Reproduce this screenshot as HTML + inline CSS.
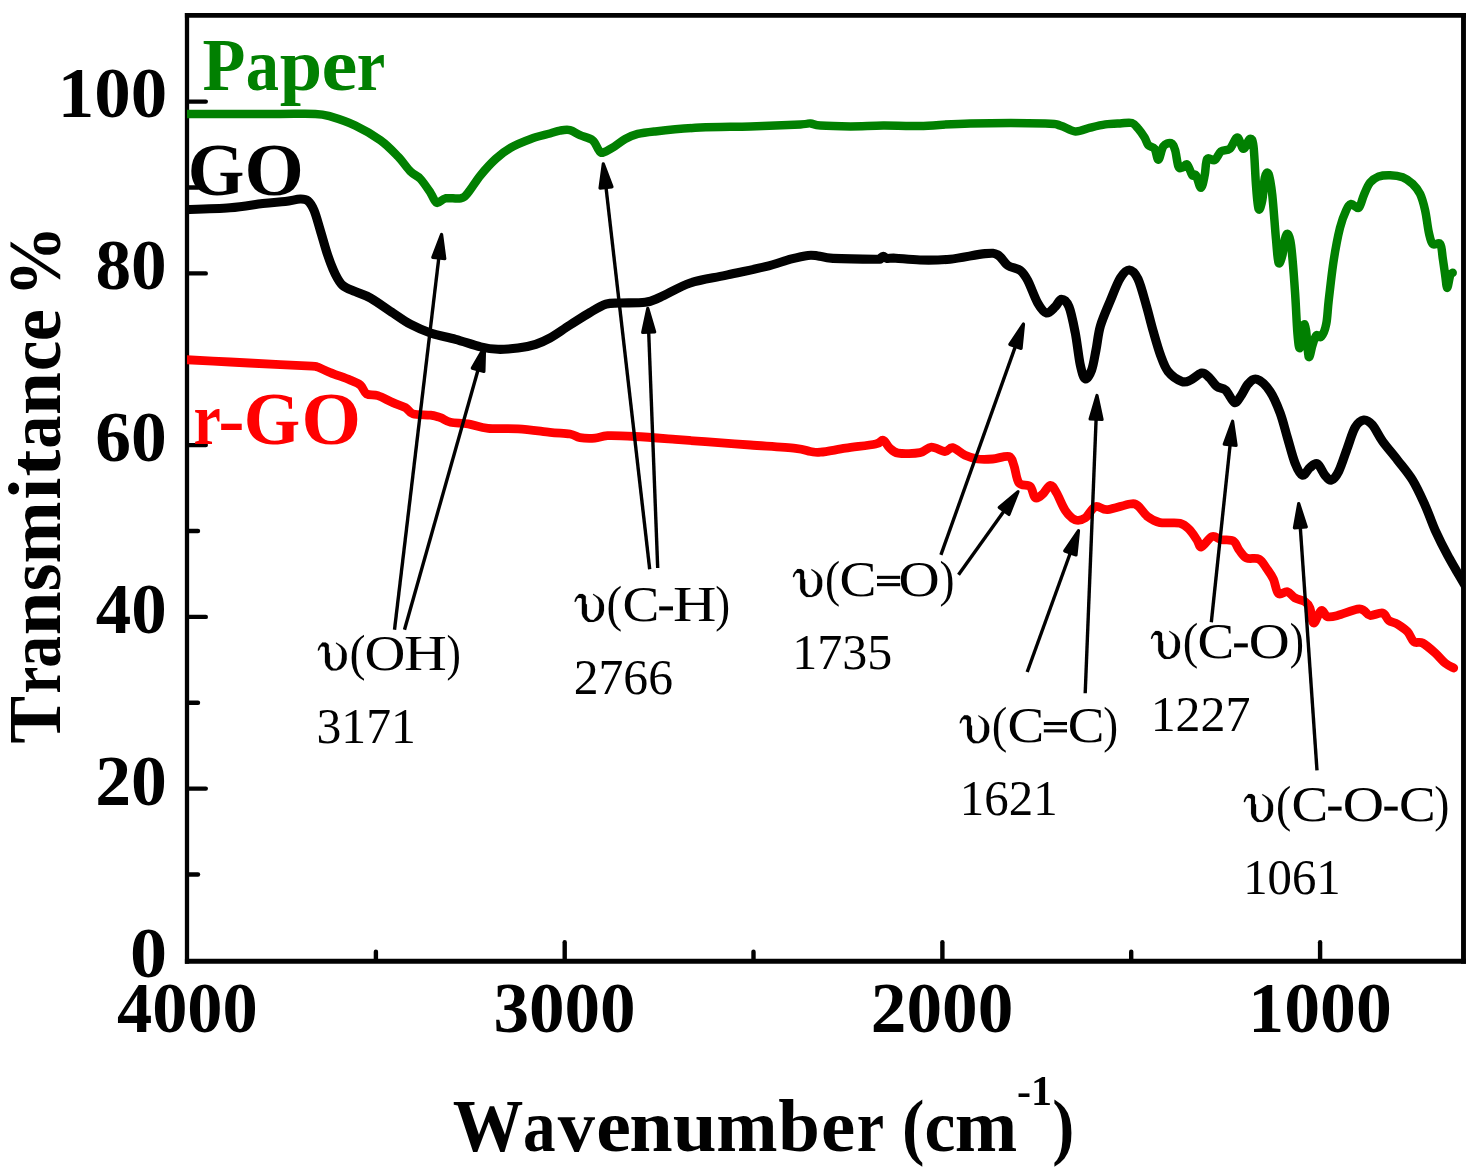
<!DOCTYPE html>
<html><head><meta charset="utf-8"><title>FTIR</title>
<style>
html,body{margin:0;padding:0;background:#fff;}
body{width:1477px;height:1168px;overflow:hidden;}
svg{display:block;}
text{font-family:"Liberation Serif",serif;}
.b{font-weight:bold;}
</style></head><body>
<svg width="1477" height="1168" viewBox="0 0 1477 1168">
<rect width="1477" height="1168" fill="#fff"/>
<g opacity="0.9999">
<g stroke="#000" stroke-linecap="butt">
<line x1="187.0" y1="12.95" x2="187.0" y2="963.6500000000001" stroke-width="4.3"/>
<line x1="1463.5" y1="12.95" x2="1463.5" y2="963.6500000000001" stroke-width="4.9"/>
<line x1="184.9" y1="15.4" x2="1465.9" y2="15.4" stroke-width="4.9"/>
<line x1="184.9" y1="961.2" x2="1465.9" y2="961.2" stroke-width="4.9"/>
</g>
<g stroke="#000" stroke-width="4.4" stroke-linecap="round">
<line x1="188.0" y1="874.5" x2="198.0" y2="874.5"/>
<line x1="188.0" y1="788.6" x2="205.8" y2="788.6"/>
<line x1="188.0" y1="702.8" x2="198.0" y2="702.8"/>
<line x1="188.0" y1="616.9" x2="205.8" y2="616.9"/>
<line x1="188.0" y1="531.0" x2="198.0" y2="531.0"/>
<line x1="188.0" y1="445.1" x2="205.8" y2="445.1"/>
<line x1="188.0" y1="359.3" x2="198.0" y2="359.3"/>
<line x1="188.0" y1="273.4" x2="205.8" y2="273.4"/>
<line x1="188.0" y1="187.5" x2="198.0" y2="187.5"/>
<line x1="188.0" y1="101.6" x2="205.8" y2="101.6"/>
<line x1="375.9" y1="960.2" x2="375.9" y2="951.7"/>
<line x1="564.7" y1="960.2" x2="564.7" y2="942.2"/>
<line x1="753.5" y1="960.2" x2="753.5" y2="951.7"/>
<line x1="942.4" y1="960.2" x2="942.4" y2="942.2"/>
<line x1="1131.2" y1="960.2" x2="1131.2" y2="951.7"/>
<line x1="1320.1" y1="960.2" x2="1320.1" y2="942.2"/>
</g>
<defs><clipPath id="cp"><rect x="187.0" y="15.4" width="1276.5" height="945.8000000000001"/></clipPath></defs>
<g clip-path="url(#cp)">
<path d="M182.0,359.5C190.0,359.9 213.7,361.1 230.1,362.0C246.5,362.9 266.6,363.9 280.2,364.6C293.8,365.3 305.7,365.8 312.0,366.2C318.3,366.6 314.9,366.1 318.0,367.2C321.1,368.3 324.9,370.5 330.3,372.6C335.7,374.8 345.3,378.0 350.3,380.1C355.3,382.2 357.7,382.8 360.4,385.1C363.1,387.4 363.7,392.1 366.6,393.9C369.5,395.6 373.5,394.2 377.9,395.6C382.3,397.1 388.3,400.6 392.9,402.6C397.5,404.6 402.1,405.8 405.5,407.7C408.9,409.6 408.8,412.6 413.0,413.9C417.2,415.1 425.9,414.6 430.5,415.2C435.1,415.8 437.2,416.5 440.5,417.7C443.8,418.9 445.9,421.2 450.5,422.2C455.1,423.2 461.8,422.9 468.1,423.9C474.4,424.9 479.8,427.6 488.1,428.4C496.5,429.2 507.9,428.2 518.2,428.9C528.5,429.5 541.4,431.4 550.0,432.3C558.6,433.2 565.0,433.1 570.0,434.0C575.0,434.9 575.8,437.0 580.0,437.7C584.2,438.4 590.4,438.5 595.0,438.2C599.6,437.9 600.9,436.0 607.6,435.7C614.3,435.4 623.9,435.9 635.2,436.5C646.5,437.1 663.6,438.5 675.3,439.4C687.0,440.3 692.8,440.8 705.3,441.7C717.8,442.6 735.4,443.9 750.4,445.0C765.4,446.1 785.5,447.2 795.5,448.3C805.5,449.4 806.3,450.9 810.5,451.5C814.7,452.1 814.6,452.8 820.5,452.2C826.4,451.6 836.4,449.6 845.6,448.2C854.8,446.8 869.4,445.3 875.7,444.0C882.0,442.7 880.9,439.6 883.2,440.2C885.5,440.8 886.9,445.5 889.4,447.7C891.9,449.9 893.1,452.4 898.2,453.2C903.3,454.0 914.5,453.7 920.0,452.7C925.5,451.7 927.1,447.4 931.3,447.2C935.5,447.0 941.5,451.4 945.0,451.5C948.5,451.6 949.2,447.1 952.6,447.7C956.0,448.3 960.9,453.4 965.1,455.3C969.3,457.2 973.0,458.4 977.6,459.0C982.2,459.6 987.4,459.4 992.6,459.0C997.8,458.6 1005.4,455.4 1008.9,456.5C1012.4,457.6 1012.2,460.9 1013.9,465.3C1015.6,469.7 1016.2,479.2 1018.9,482.8C1021.6,486.4 1027.5,484.1 1030.2,486.6C1032.9,489.1 1033.1,496.6 1035.2,497.8C1037.3,499.1 1040.2,496.2 1042.7,494.1C1045.2,492.0 1048.0,485.5 1050.3,485.3C1052.6,485.1 1054.0,488.6 1056.5,492.8C1059.0,497.0 1062.2,505.9 1065.3,510.4C1068.4,514.9 1072.0,518.6 1075.3,519.9C1078.6,521.1 1081.9,520.1 1085.3,517.9C1088.7,515.7 1091.7,508.0 1095.4,506.6C1099.1,505.2 1101.7,510.1 1107.5,509.7C1113.3,509.3 1124.9,504.6 1130.0,504.0C1135.1,503.4 1135.1,503.8 1138.0,505.9C1140.9,508.0 1143.8,513.7 1147.5,516.5C1151.2,519.3 1154.6,521.5 1160.0,522.6C1165.4,523.7 1175.1,522.0 1180.0,523.2C1184.9,524.4 1186.7,526.9 1189.5,529.7C1192.3,532.5 1195.0,537.1 1197.0,540.0C1199.0,542.9 1198.9,547.6 1201.4,547.0C1203.9,546.4 1208.7,537.8 1212.0,536.6C1215.3,535.4 1218.0,539.0 1221.5,539.7C1225.0,540.4 1230.3,539.2 1233.3,541.0C1236.3,542.8 1237.2,547.6 1239.4,550.4C1241.6,553.2 1243.2,556.5 1246.5,558.0C1249.8,559.5 1255.6,557.3 1259.0,559.1C1262.4,560.9 1264.6,565.6 1267.0,569.0C1269.4,572.4 1271.5,575.1 1273.4,579.2C1275.3,583.3 1276.1,591.5 1278.4,593.6C1280.7,595.7 1284.7,591.0 1287.4,591.7C1290.2,592.4 1292.0,596.2 1294.9,597.9C1297.8,599.6 1302.4,600.0 1304.9,601.7C1307.4,603.4 1308.4,604.5 1309.9,608.0C1311.4,611.5 1311.8,622.6 1313.7,623.0C1315.6,623.4 1318.9,611.5 1321.2,610.5C1323.5,609.5 1324.7,615.9 1327.4,616.7C1330.1,617.5 1332.5,616.8 1337.5,615.5C1342.5,614.2 1353.1,610.0 1357.5,609.2C1361.9,608.4 1361.7,609.5 1363.8,610.5C1365.9,611.5 1366.9,615.1 1370.0,615.5C1373.1,615.9 1379.5,612.2 1382.6,613.0C1385.7,613.8 1386.3,618.6 1388.8,620.5C1391.3,622.4 1394.5,622.3 1397.6,624.2C1400.7,626.1 1404.9,628.9 1407.6,631.8C1410.3,634.7 1411.4,639.9 1413.9,641.8C1416.4,643.7 1419.0,641.1 1422.6,643.0C1426.1,644.9 1431.4,649.6 1435.2,653.0C1439.0,656.4 1442.1,660.6 1445.2,663.1C1448.3,665.6 1452.3,667.2 1453.7,668.0" fill="none" stroke="#ff0000" stroke-width="8.8" stroke-linejoin="round" stroke-linecap="round"/>
<path d="M182.0,209.8C190.0,209.5 216.6,208.9 230.0,207.8C243.4,206.8 253.5,204.6 262.7,203.5C271.9,202.4 278.9,202.2 285.2,201.5C291.4,200.8 296.4,199.1 300.2,199.0C304.0,198.9 305.5,198.9 307.8,200.8C310.1,202.7 311.9,205.4 314.0,210.3C316.1,215.2 318.0,222.8 320.3,230.3C322.6,237.8 325.3,248.1 327.8,255.4C330.3,262.7 332.8,269.2 335.3,274.2C337.8,279.2 339.5,282.6 342.8,285.5C346.1,288.4 350.8,289.6 355.4,291.7C360.0,293.8 364.1,294.4 370.4,298.0C376.7,301.6 386.3,308.6 393.0,313.0C399.7,317.4 404.2,321.0 410.5,324.3C416.8,327.6 423.0,330.5 430.5,333.0C438.0,335.5 447.2,337.0 455.6,339.3C464.0,341.6 473.5,345.1 480.6,346.8C487.7,348.5 491.8,349.1 498.0,349.3C504.2,349.5 511.7,348.8 518.0,348.0C524.3,347.2 530.4,346.0 535.7,344.3C541.0,342.6 544.3,341.2 550.0,338.0C555.7,334.8 563.3,329.2 570.0,325.0C576.7,320.8 584.0,316.0 590.0,312.5C596.0,309.0 601.0,305.8 606.0,304.2C611.0,302.6 613.5,303.3 620.0,303.0C626.5,302.7 638.5,303.2 645.2,302.3C651.9,301.4 652.7,300.5 660.2,297.3C667.7,294.1 679.4,286.6 690.3,283.0C701.2,279.4 712.9,278.1 725.4,275.4C737.9,272.7 754.5,269.4 765.4,266.7C776.2,264.0 783.4,261.1 790.5,259.2C797.6,257.3 803.4,255.9 808.0,255.4C812.6,254.9 813.8,255.4 818.0,255.9C822.2,256.4 823.4,257.8 833.0,258.4C842.6,258.9 867.9,259.2 875.7,259.2C883.5,259.2 878.8,259.1 880.0,258.6C881.2,258.1 882.0,256.2 883.2,256.2C884.4,256.2 884.9,258.1 887.0,258.4C889.1,258.7 890.2,257.9 895.7,258.2C901.2,258.5 911.0,259.8 920.0,260.0C929.0,260.2 939.1,260.3 950.0,259.2C960.9,258.1 977.1,254.3 985.1,253.6C993.1,252.9 993.9,252.9 997.7,254.9C1001.5,256.9 1004.0,262.8 1007.7,265.4C1011.5,268.0 1016.9,267.9 1020.2,270.4C1023.5,272.9 1024.8,275.0 1027.7,280.4C1030.6,285.8 1034.6,297.6 1037.7,303.0C1040.8,308.4 1043.6,312.4 1046.5,313.0C1049.4,313.6 1052.8,309.0 1055.3,306.7C1057.8,304.4 1059.2,299.2 1061.5,299.2C1063.8,299.2 1066.7,301.1 1069.0,306.7C1071.3,312.3 1073.4,323.3 1075.3,333.0C1077.2,342.7 1078.6,357.5 1080.3,365.1C1082.0,372.7 1083.4,378.0 1085.3,378.8C1087.2,379.6 1089.8,374.9 1091.6,370.1C1093.4,365.3 1094.5,357.4 1096.0,350.0C1097.5,342.6 1098.0,334.2 1100.4,326.0C1102.8,317.8 1107.1,308.5 1110.4,300.5C1113.7,292.5 1117.2,283.0 1120.4,277.9C1123.6,272.8 1126.4,269.8 1129.3,270.0C1132.2,270.2 1135.2,273.1 1138.0,279.0C1140.8,284.9 1143.8,296.9 1146.3,305.5C1148.8,314.1 1150.6,322.2 1153.0,330.5C1155.4,338.8 1158.0,348.3 1160.5,355.1C1163.0,361.9 1164.5,366.9 1168.0,371.3C1171.5,375.7 1178.0,379.9 1181.8,381.4C1185.5,382.9 1187.2,381.5 1190.5,380.1C1193.8,378.7 1198.7,373.5 1201.8,373.1C1204.9,372.7 1206.8,375.4 1209.3,377.6C1211.8,379.8 1214.1,384.3 1216.8,386.4C1219.5,388.5 1222.6,387.4 1225.6,390.1C1228.5,392.8 1232.0,401.4 1234.5,402.5C1237.0,403.6 1238.3,399.5 1240.6,396.4C1242.9,393.3 1245.5,386.8 1248.2,383.9C1250.9,381.0 1253.4,378.1 1257.0,379.3C1260.6,380.5 1266.2,385.8 1270.0,391.3C1273.8,396.9 1277.1,404.9 1280.0,412.6C1282.9,420.3 1284.9,429.2 1287.4,437.6C1289.9,446.0 1292.4,456.4 1294.9,462.7C1297.4,469.0 1299.9,474.4 1302.4,475.2C1304.9,476.0 1307.4,469.6 1309.9,467.7C1312.4,465.8 1314.9,462.6 1317.4,463.9C1319.9,465.1 1322.6,472.5 1324.9,475.2C1327.2,477.9 1328.9,480.8 1331.2,480.2C1333.5,479.6 1336.0,476.8 1338.7,471.4C1341.4,466.0 1344.8,454.9 1347.5,447.6C1350.2,440.3 1352.3,432.2 1355.0,427.6C1357.7,423.0 1360.9,420.5 1363.8,420.1C1366.7,419.7 1369.4,421.6 1372.5,425.1C1375.6,428.7 1378.4,435.5 1382.6,441.4C1386.8,447.2 1392.6,453.7 1397.6,460.2C1402.6,466.7 1408.0,472.7 1412.6,480.2C1417.2,487.7 1421.3,497.0 1425.1,505.3C1428.9,513.6 1431.4,521.9 1435.2,530.3C1439.0,538.6 1443.1,546.8 1447.7,555.4C1452.3,564.0 1459.3,575.6 1463.0,582.0C1466.7,588.4 1468.8,592.0 1470.0,594.0" fill="none" stroke="#000" stroke-width="9.1" stroke-linejoin="round" stroke-linecap="butt"/>
<path d="M182.0,113.9C190.0,113.9 213.7,113.9 230.0,113.9C246.3,113.9 265.8,113.9 280.0,113.9C294.2,113.9 306.9,113.5 315.3,113.9C323.7,114.3 323.6,114.5 330.3,116.4C337.0,118.4 347.0,121.6 355.4,125.6C363.8,129.6 373.3,135.1 380.4,140.2C387.5,145.3 392.9,151.2 397.9,156.4C402.9,161.6 406.7,167.7 410.5,171.5C414.3,175.3 417.2,175.4 420.5,179.0C423.8,182.6 427.8,188.8 430.5,192.8C433.2,196.8 434.3,201.9 436.8,202.8C439.3,203.7 441.5,199.1 445.5,198.3C449.5,197.6 456.9,199.2 460.6,198.3C464.4,197.4 464.7,196.7 468.0,192.8C471.3,189.0 476.0,180.8 480.6,175.2C485.2,169.6 490.6,163.6 495.6,159.0C500.6,154.4 504.8,151.0 510.7,147.7C516.5,144.3 524.2,141.3 530.7,138.9C537.2,136.5 545.1,134.9 550.0,133.5C554.9,132.1 556.7,131.2 560.0,130.6C563.3,130.0 566.7,129.3 570.0,130.1C573.3,130.9 576.2,133.5 580.0,135.2C583.8,136.9 589.5,137.7 592.6,140.2C595.7,142.7 597.1,148.1 598.8,150.2C600.5,152.3 600.3,153.1 602.6,152.7C604.9,152.3 608.8,150.0 612.6,147.7C616.4,145.4 621.0,141.2 625.2,138.9C629.4,136.6 632.7,135.2 637.7,133.9C642.7,132.7 644.8,132.5 655.2,131.4C665.6,130.3 684.4,128.4 700.3,127.6C716.2,126.8 733.7,126.9 750.4,126.4C767.1,125.9 790.5,124.9 800.5,124.4C810.5,123.9 807.2,123.2 810.5,123.4C813.8,123.6 813.8,125.1 820.5,125.6C827.2,126.1 840.1,126.4 850.6,126.4C861.1,126.4 871.6,125.7 883.2,125.6C894.8,125.5 905.5,126.4 920.0,126.0C934.5,125.6 949.2,123.8 970.1,123.4C991.0,123.0 1030.3,123.0 1045.3,123.4C1060.3,123.8 1055.3,124.3 1060.3,125.6C1065.3,126.9 1070.3,131.1 1075.3,131.4C1080.3,131.7 1085.3,128.8 1090.3,127.6C1095.3,126.4 1100.5,125.1 1105.4,124.4C1110.4,123.7 1115.6,123.6 1120.0,123.4C1124.4,123.2 1129.0,122.1 1132.0,123.0C1135.0,123.9 1136.2,126.4 1138.3,128.8C1140.4,131.2 1142.9,134.9 1144.6,137.6C1146.3,140.3 1146.6,143.2 1148.3,145.1C1150.0,147.0 1152.9,146.4 1154.6,148.8C1156.3,151.2 1156.9,160.0 1158.4,159.6C1159.9,159.2 1161.3,149.1 1163.4,146.3C1165.5,143.6 1169.0,142.5 1170.9,143.1C1172.9,143.7 1173.8,146.2 1175.1,150.1C1176.3,154.0 1177.2,163.5 1178.4,166.4C1179.6,169.3 1180.7,167.9 1182.2,167.6C1183.7,167.3 1185.5,163.3 1187.2,164.6C1188.9,165.9 1190.8,173.4 1192.2,175.2C1193.7,177.0 1194.5,173.1 1195.9,175.2C1197.4,177.3 1199.4,187.7 1200.9,187.7C1202.4,187.7 1203.7,180.0 1204.7,175.2C1205.8,170.4 1205.5,161.4 1207.2,158.9C1208.9,156.4 1212.4,161.3 1214.7,160.1C1217.0,158.8 1218.5,153.3 1221.0,151.4C1223.5,149.5 1227.1,151.1 1229.8,148.8C1232.5,146.5 1235.0,137.6 1237.3,137.6C1239.6,137.6 1241.4,148.6 1243.5,148.8C1245.6,149.0 1248.1,139.2 1249.8,138.8C1251.5,138.4 1252.5,138.6 1253.5,146.3C1254.5,154.0 1255.2,174.8 1256.0,185.2C1256.8,195.6 1257.5,206.5 1258.6,209.0C1259.6,211.5 1261.3,205.4 1262.3,200.2C1263.3,195.0 1263.8,182.1 1264.8,177.7C1265.8,173.3 1267.3,171.0 1268.6,173.9C1269.8,176.8 1271.0,184.1 1272.3,195.2C1273.5,206.3 1275.0,229.0 1276.1,240.3C1277.1,251.6 1277.5,260.3 1278.6,262.8C1279.6,265.3 1281.4,259.3 1282.4,255.3C1283.5,251.3 1284.0,242.6 1284.9,239.0C1285.8,235.4 1286.9,232.9 1287.9,234.0C1288.9,235.1 1289.9,235.9 1291.1,245.3C1292.3,254.7 1293.9,275.8 1294.9,290.4C1296.0,305.0 1296.6,323.4 1297.4,333.0C1298.2,342.6 1298.9,349.2 1299.9,348.0C1300.9,346.8 1302.6,328.4 1303.6,325.5C1304.6,322.6 1305.2,325.3 1306.1,330.5C1306.9,335.7 1307.7,354.3 1308.7,356.8C1309.8,359.3 1311.2,349.1 1312.4,345.5C1313.7,341.9 1314.7,337.0 1316.2,335.5C1317.7,334.0 1319.5,338.6 1321.2,336.7C1322.9,334.8 1325.0,330.2 1326.2,324.2C1327.5,318.1 1327.5,311.0 1328.7,300.4C1330.0,289.8 1331.8,272.4 1333.7,260.3C1335.6,248.2 1337.9,236.2 1340.0,227.8C1342.1,219.5 1344.3,214.2 1346.2,210.2C1348.1,206.2 1349.1,204.4 1351.2,204.0C1353.3,203.6 1356.7,209.2 1358.8,207.7C1360.9,206.2 1361.9,199.4 1363.8,195.2C1365.7,191.0 1367.5,185.8 1370.0,182.7C1372.5,179.6 1375.5,177.7 1378.8,176.4C1382.1,175.2 1386.1,175.1 1390.1,175.2C1394.1,175.3 1398.8,175.8 1402.6,177.2C1406.3,178.6 1409.7,181.1 1412.6,183.9C1415.5,186.7 1418.0,189.5 1420.1,193.9C1422.2,198.3 1423.6,203.7 1425.1,210.2C1426.6,216.7 1427.6,227.2 1428.9,232.8C1430.2,238.4 1430.8,242.1 1432.7,244.0C1434.6,245.9 1438.5,241.7 1440.2,244.0C1441.9,246.3 1441.9,252.6 1442.7,257.8C1443.5,263.0 1444.5,270.4 1445.2,275.4C1446.0,280.4 1446.4,287.9 1447.2,287.9C1448.0,287.9 1449.3,277.9 1450.2,275.4C1451.1,272.9 1452.3,273.2 1452.7,272.8" fill="none" stroke="#008000" stroke-width="8.5" stroke-linejoin="round" stroke-linecap="round"/>
</g>
<line x1="394.5" y1="629.7" x2="438.8" y2="258.0" stroke="#000" stroke-width="3.4"/>
<polygon points="441.6,234.4 444.8,258.7 432.8,257.3" fill="#000" stroke="#000" stroke-width="3.2" stroke-linejoin="round"/>
<line x1="404.5" y1="629.7" x2="478.1" y2="369.7" stroke="#000" stroke-width="3.4"/>
<polygon points="484.6,346.8 483.9,371.4 472.3,368.1" fill="#000" stroke="#000" stroke-width="3.2" stroke-linejoin="round"/>
<line x1="649.7" y1="569.2" x2="606.0" y2="187.4" stroke="#000" stroke-width="3.4"/>
<polygon points="603.3,163.8 612.0,186.8 600.0,188.1" fill="#000" stroke="#000" stroke-width="3.2" stroke-linejoin="round"/>
<line x1="657.7" y1="568.0" x2="648.7" y2="332.2" stroke="#000" stroke-width="3.4"/>
<polygon points="647.8,308.4 654.7,332.0 642.7,332.4" fill="#000" stroke="#000" stroke-width="3.2" stroke-linejoin="round"/>
<line x1="940.9" y1="554.9" x2="1015.4" y2="346.4" stroke="#000" stroke-width="3.4"/>
<polygon points="1023.5,324.0 1021.1,348.4 1009.8,344.4" fill="#000" stroke="#000" stroke-width="3.2" stroke-linejoin="round"/>
<line x1="958.5" y1="574.8" x2="1004.1" y2="511.0" stroke="#000" stroke-width="3.4"/>
<polygon points="1018.0,491.6 1009.0,514.5 999.2,507.5" fill="#000" stroke="#000" stroke-width="3.2" stroke-linejoin="round"/>
<line x1="1027.2" y1="672.0" x2="1070.3" y2="553.0" stroke="#000" stroke-width="3.4"/>
<polygon points="1078.5,530.6 1076.0,555.0 1064.7,550.9" fill="#000" stroke="#000" stroke-width="3.2" stroke-linejoin="round"/>
<line x1="1085.2" y1="693.3" x2="1096.1" y2="419.3" stroke="#000" stroke-width="3.4"/>
<polygon points="1097.0,395.5 1102.1,419.5 1090.1,419.0" fill="#000" stroke="#000" stroke-width="3.2" stroke-linejoin="round"/>
<line x1="1211.3" y1="622.3" x2="1230.1" y2="444.9" stroke="#000" stroke-width="3.4"/>
<polygon points="1232.6,421.2 1236.1,445.5 1224.2,444.2" fill="#000" stroke="#000" stroke-width="3.2" stroke-linejoin="round"/>
<line x1="1317.0" y1="770.4" x2="1300.3" y2="527.3" stroke="#000" stroke-width="3.4"/>
<polygon points="1298.7,503.6 1306.3,526.9 1294.4,527.8" fill="#000" stroke="#000" stroke-width="3.2" stroke-linejoin="round"/>
<polygon points="317.80,650.60 318.00,648.70 319.19,645.90 321.08,643.90 322.17,642.60 325.75,642.60 328.03,644.10 328.82,645.30 328.82,652.50 329.92,653.10 329.92,664.10 331.11,666.50 333.49,668.40 336.47,668.70 338.26,666.80 340.24,664.80 341.44,661.70 341.93,657.30 341.93,651.10 340.74,647.70 338.26,645.30 335.87,643.40 336.17,642.50 338.85,644.10 341.93,645.90 344.71,648.70 345.91,651.10 346.70,653.80 346.70,659.30 345.71,663.40 343.62,666.50 340.94,668.90 336.47,670.60 331.11,670.60 328.33,668.60 325.94,665.50 324.95,662.10 324.95,647.70 323.96,646.60 321.18,646.60 319.98,648.00 319.49,649.70 318.50,650.70" fill="#000" stroke="#000" stroke-width="0.15" stroke-linejoin="round"/>
<text transform="translate(349.53,669.70) scale(0.9384,1)" font-size="51.4" fill="#000">(</text>
<text transform="translate(364.44,669.70) scale(1.1004,1)" font-size="51.4" fill="#000">O</text>
<text transform="translate(404.12,669.70) scale(1.1541,1)" font-size="51.4" fill="#000">H</text>
<text transform="translate(446.60,669.70) scale(0.8387,1)" font-size="51.4" fill="#000">)</text>
<polygon points="574.60,601.90 574.80,600.00 576.01,597.20 577.93,595.20 579.05,593.90 582.68,593.90 585.01,595.40 585.81,596.60 585.81,603.80 586.93,604.40 586.93,615.40 588.14,617.80 590.56,619.70 593.59,620.00 595.41,618.10 597.43,616.10 598.65,613.00 599.15,608.60 599.15,602.40 597.94,599.00 595.41,596.60 592.99,594.70 593.29,593.80 596.02,595.40 599.15,597.20 601.98,600.00 603.19,602.40 604.00,605.10 604.00,610.60 602.99,614.70 600.87,617.80 598.14,620.20 593.59,621.90 588.14,621.90 585.31,619.90 582.88,616.80 581.87,613.40 581.87,599.00 580.86,597.90 578.04,597.90 576.82,599.30 576.32,601.00 575.31,602.00" fill="#000" stroke="#000" stroke-width="0.15" stroke-linejoin="round"/>
<text transform="translate(606.48,621.00) scale(0.9155,1)" font-size="51.4" fill="#000">(</text>
<text transform="translate(622.49,621.00) scale(1.0739,1)" font-size="51.4" fill="#000">C</text>
<rect x="659.20" y="606.40" width="13.80" height="4.00" fill="#000"/>
<text transform="translate(672.90,621.00) scale(1.1688,1)" font-size="51.4" fill="#000">H</text>
<text transform="translate(715.35,621.00) scale(0.8689,1)" font-size="51.4" fill="#000">)</text>
<polygon points="792.90,577.10 793.10,575.20 794.31,572.40 796.22,570.40 797.33,569.10 800.95,569.10 803.27,570.60 804.08,571.80 804.08,579.00 805.18,579.60 805.18,590.60 806.39,593.00 808.81,594.90 811.83,595.20 813.64,593.30 815.66,591.30 816.86,588.20 817.37,583.80 817.37,577.60 816.16,574.20 813.64,571.80 811.23,569.90 811.53,569.00 814.25,570.60 817.37,572.40 820.19,575.20 821.39,577.60 822.20,580.30 822.20,585.80 821.19,589.90 819.08,593.00 816.36,595.40 811.83,597.10 806.39,597.10 803.57,595.10 801.16,592.00 800.15,588.60 800.15,574.20 799.14,573.10 796.32,573.10 795.12,574.50 794.61,576.20 793.60,577.20" fill="#000" stroke="#000" stroke-width="0.15" stroke-linejoin="round"/>
<text transform="translate(824.95,596.20) scale(0.8850,1)" font-size="51.4" fill="#000">(</text>
<text transform="translate(839.49,596.20) scale(1.0773,1)" font-size="51.4" fill="#000">C</text>
<rect x="877.00" y="575.80" width="23.20" height="3.10" fill="#000"/>
<rect x="877.00" y="583.10" width="23.20" height="3.10" fill="#000"/>
<text transform="translate(898.52,596.20) scale(1.1096,1)" font-size="51.4" fill="#000">O</text>
<text transform="translate(939.54,596.20) scale(0.8764,1)" font-size="51.4" fill="#000">)</text>
<polygon points="959.70,723.30 959.90,721.40 961.12,718.60 963.05,716.60 964.16,715.30 967.81,715.30 970.14,716.80 970.95,718.00 970.95,725.20 972.07,725.80 972.07,736.80 973.28,739.20 975.72,741.10 978.76,741.40 980.58,739.50 982.61,737.50 983.83,734.40 984.33,730.00 984.33,723.80 983.12,720.40 980.58,718.00 978.15,716.10 978.45,715.20 981.19,716.80 984.33,718.60 987.17,721.40 988.39,723.80 989.20,726.50 989.20,732.00 988.19,736.10 986.06,739.20 983.32,741.60 978.76,743.30 973.28,743.30 970.45,741.30 968.01,738.20 967.00,734.80 967.00,720.40 965.99,719.30 963.15,719.30 961.93,720.70 961.42,722.40 960.41,723.40" fill="#000" stroke="#000" stroke-width="0.15" stroke-linejoin="round"/>
<text transform="translate(991.80,742.40) scale(0.9079,1)" font-size="51.4" fill="#000">(</text>
<text transform="translate(1007.50,742.40) scale(1.0705,1)" font-size="51.4" fill="#000">C</text>
<rect x="1043.80" y="722.00" width="23.20" height="3.10" fill="#000"/>
<rect x="1043.80" y="729.30" width="23.20" height="3.10" fill="#000"/>
<text transform="translate(1067.80,742.40) scale(1.0705,1)" font-size="51.4" fill="#000">C</text>
<text transform="translate(1103.35,742.40) scale(0.8689,1)" font-size="51.4" fill="#000">)</text>
<polygon points="1151.00,638.90 1151.20,637.00 1152.40,634.20 1154.29,632.20 1155.38,630.90 1158.97,630.90 1161.26,632.40 1162.06,633.60 1162.06,640.80 1163.16,641.40 1163.16,652.40 1164.35,654.80 1166.75,656.70 1169.74,657.00 1171.53,655.10 1173.52,653.10 1174.72,650.00 1175.22,645.60 1175.22,639.40 1174.02,636.00 1171.53,633.60 1169.14,631.70 1169.44,630.80 1172.13,632.40 1175.22,634.20 1178.01,637.00 1179.20,639.40 1180.00,642.10 1180.00,647.60 1179.00,651.70 1176.91,654.80 1174.22,657.20 1169.74,658.90 1164.35,658.90 1161.56,656.90 1159.17,653.80 1158.18,650.40 1158.18,636.00 1157.18,634.90 1154.39,634.90 1153.19,636.30 1152.69,638.00 1151.70,639.00" fill="#000" stroke="#000" stroke-width="0.15" stroke-linejoin="round"/>
<text transform="translate(1182.70,658.00) scale(0.9079,1)" font-size="51.4" fill="#000">(</text>
<text transform="translate(1197.50,658.00) scale(1.0705,1)" font-size="51.4" fill="#000">C</text>
<rect x="1234.10" y="643.40" width="13.70" height="4.00" fill="#000"/>
<text transform="translate(1248.63,658.00) scale(1.1035,1)" font-size="51.4" fill="#000">O</text>
<text transform="translate(1289.71,658.00) scale(0.8311,1)" font-size="51.4" fill="#000">)</text>
<polygon points="1243.80,802.10 1244.00,800.20 1245.21,797.40 1247.12,795.40 1248.23,794.10 1251.85,794.10 1254.17,795.60 1254.98,796.80 1254.98,804.00 1256.08,804.60 1256.08,815.60 1257.29,818.00 1259.71,819.90 1262.73,820.20 1264.54,818.30 1266.56,816.30 1267.76,813.20 1268.27,808.80 1268.27,802.60 1267.06,799.20 1264.54,796.80 1262.13,794.90 1262.43,794.00 1265.15,795.60 1268.27,797.40 1271.09,800.20 1272.29,802.60 1273.10,805.30 1273.10,810.80 1272.09,814.90 1269.98,818.00 1267.26,820.40 1262.73,822.10 1257.29,822.10 1254.47,820.10 1252.06,817.00 1251.05,813.60 1251.05,799.20 1250.04,798.10 1247.22,798.10 1246.02,799.50 1245.51,801.20 1244.50,802.20" fill="#000" stroke="#000" stroke-width="0.15" stroke-linejoin="round"/>
<text transform="translate(1276.04,821.20) scale(0.8927,1)" font-size="51.4" fill="#000">(</text>
<text transform="translate(1291.50,821.20) scale(1.0705,1)" font-size="51.4" fill="#000">C</text>
<rect x="1328.20" y="806.60" width="13.40" height="4.00" fill="#000"/>
<text transform="translate(1342.71,821.20) scale(1.1126,1)" font-size="51.4" fill="#000">O</text>
<rect x="1384.30" y="806.60" width="13.40" height="4.00" fill="#000"/>
<text transform="translate(1398.90,821.20) scale(1.0705,1)" font-size="51.4" fill="#000">C</text>
<text transform="translate(1434.32,821.20) scale(0.8840,1)" font-size="51.4" fill="#000">)</text>
<text transform="translate(316.54,742.60) scale(0.9816,1)" font-size="50.6" fill="#000">3171</text>
<text transform="translate(573.77,693.60) scale(0.9804,1)" font-size="50.6" fill="#000">2766</text>
<text transform="translate(792.23,668.90) scale(0.9879,1)" font-size="50.6" fill="#000">1735</text>
<text transform="translate(959.82,815.00) scale(0.9665,1)" font-size="50.6" fill="#000">1621</text>
<text transform="translate(1150.63,731.00) scale(0.9868,1)" font-size="50.6" fill="#000">1227</text>
<text transform="translate(1243.13,893.90) scale(0.9644,1)" font-size="50.6" fill="#000">1061</text>
<text class="b" transform="translate(202.57,90.00) scale(0.9586,1)" font-size="73.3" fill="#008000">P</text>
<text class="b" transform="translate(245.64,90.00) scale(0.9075,1)" font-size="73.3" fill="#008000">a</text>
<text class="b" transform="translate(279.65,90.00) scale(1.0398,1)" font-size="73.3" fill="#008000">p</text>
<text class="b" transform="translate(321.47,90.00) scale(1.1021,1)" font-size="73.3" fill="#008000">e</text>
<text class="b" transform="translate(356.84,90.00) scale(0.8738,1)" font-size="73.3" fill="#008000">r</text>
<text class="b" transform="translate(187.76,194.70) scale(0.9740,1)" font-size="74.8" fill="#000">G</text>
<text class="b" transform="translate(244.48,194.70) scale(1.0204,1)" font-size="74.8" fill="#000">O</text>
<text class="b" transform="translate(193.51,444.10) scale(0.8213,1)" font-size="74.9" fill="#ff0000">r</text>
<text class="b" transform="translate(218.33,444.10) scale(1.0578,1)" font-size="74.9" fill="#ff0000">-</text>
<text class="b" transform="translate(243.67,444.10) scale(0.9689,1)" font-size="74.9" fill="#ff0000">G</text>
<text class="b" transform="translate(301.38,444.10) scale(1.0210,1)" font-size="74.9" fill="#ff0000">O</text>
<text class="b" transform="translate(57.76,117.00) scale(1.0222,1)" font-size="71.4" fill="#000">100</text>
<text class="b" transform="translate(95.48,289.20) scale(0.9985,1)" font-size="71.4" fill="#000">80</text>
<text class="b" transform="translate(95.30,461.00) scale(1.0012,1)" font-size="71.4" fill="#000">60</text>
<text class="b" transform="translate(95.81,633.30) scale(0.9937,1)" font-size="71.4" fill="#000">40</text>
<text class="b" transform="translate(95.16,805.10) scale(1.0032,1)" font-size="71.4" fill="#000">20</text>
<text class="b" transform="translate(129.92,976.90) scale(1.0381,1)" font-size="71.4" fill="#000">0</text>
<text class="b" transform="translate(116.92,1032.10) scale(0.9869,1)" font-size="71.4" fill="#000">4000</text>
<text class="b" transform="translate(493.43,1032.10) scale(0.9960,1)" font-size="71.4" fill="#000">3000</text>
<text class="b" transform="translate(870.87,1032.10) scale(0.9972,1)" font-size="71.4" fill="#000">2000</text>
<text class="b" transform="translate(1248.36,1032.10) scale(1.0044,1)" font-size="71.4" fill="#000">1000</text>
<text class="b" transform="translate(60.30,743.57) rotate(-90) scale(0.9606,1)" font-size="74.3" fill="#000">T</text>
<text class="b" transform="translate(60.30,693.87) rotate(-90) scale(0.8178,1)" font-size="74.3" fill="#000">r</text>
<text class="b" transform="translate(60.30,667.87) rotate(-90) scale(0.8566,1)" font-size="74.3" fill="#000">a</text>
<text class="b" transform="translate(60.30,635.58) rotate(-90) scale(1.0688,1)" font-size="74.3" fill="#000">n</text>
<text class="b" transform="translate(60.30,591.25) rotate(-90) scale(0.9642,1)" font-size="74.3" fill="#000">s</text>
<text class="b" transform="translate(60.30,563.55) rotate(-90) scale(1.0032,1)" font-size="74.3" fill="#000">m</text>
<text class="b" transform="translate(60.30,499.79) rotate(-90) scale(1.0711,1)" font-size="74.3" fill="#000">i</text>
<text class="b" transform="translate(60.30,476.50) rotate(-90) scale(1.0810,1)" font-size="74.3" fill="#000">t</text>
<text class="b" transform="translate(60.30,448.75) rotate(-90) scale(0.8923,1)" font-size="74.3" fill="#000">a</text>
<text class="b" transform="translate(60.30,415.12) rotate(-90) scale(1.0400,1)" font-size="74.3" fill="#000">n</text>
<text class="b" transform="translate(60.30,370.99) rotate(-90) scale(0.9194,1)" font-size="74.3" fill="#000">c</text>
<text class="b" transform="translate(60.30,341.23) rotate(-90) scale(0.9712,1)" font-size="74.3" fill="#000">e</text>
<text class="b" transform="translate(60.30,296.81) rotate(-90) scale(0.9593,1)" font-size="74.3" fill="#000">%</text>
<text class="b" transform="translate(452.64,1150.70) scale(0.9634,1)" font-size="73.3" fill="#000">W</text>
<text class="b" transform="translate(523.08,1150.70) scale(0.8894,1)" font-size="73.3" fill="#000">a</text>
<text class="b" transform="translate(557.70,1150.70) scale(1.0150,1)" font-size="73.3" fill="#000">v</text>
<text class="b" transform="translate(596.27,1150.70) scale(1.0629,1)" font-size="73.3" fill="#000">e</text>
<text class="b" transform="translate(629.35,1150.70) scale(1.0648,1)" font-size="73.3" fill="#000">n</text>
<text class="b" transform="translate(672.82,1150.70) scale(1.0755,1)" font-size="73.3" fill="#000">u</text>
<text class="b" transform="translate(716.18,1150.70) scale(1.0031,1)" font-size="73.3" fill="#000">m</text>
<text class="b" transform="translate(778.16,1150.70) scale(1.0208,1)" font-size="73.3" fill="#000">b</text>
<text class="b" transform="translate(821.10,1150.70) scale(1.0522,1)" font-size="73.3" fill="#000">e</text>
<text class="b" transform="translate(856.71,1150.70) scale(0.8393,1)" font-size="73.3" fill="#000">r</text>
<text class="b" transform="translate(902.06,1150.70) scale(0.9202,1)" font-size="73.3" fill="#000">(</text>
<text class="b" transform="translate(924.46,1150.70) scale(0.9497,1)" font-size="73.3" fill="#000">c</text>
<text class="b" transform="translate(954.64,1150.70) scale(1.0238,1)" font-size="73.3" fill="#000">m</text>
<text class="b" transform="translate(1016.92,1104.70) scale(1.0085,1)" font-size="41.8" fill="#000">-1</text>
<text class="b" transform="translate(1052.14,1150.70) scale(0.9060,1)" font-size="73.3" fill="#000">)</text>
</g>
</svg>
</body></html>
